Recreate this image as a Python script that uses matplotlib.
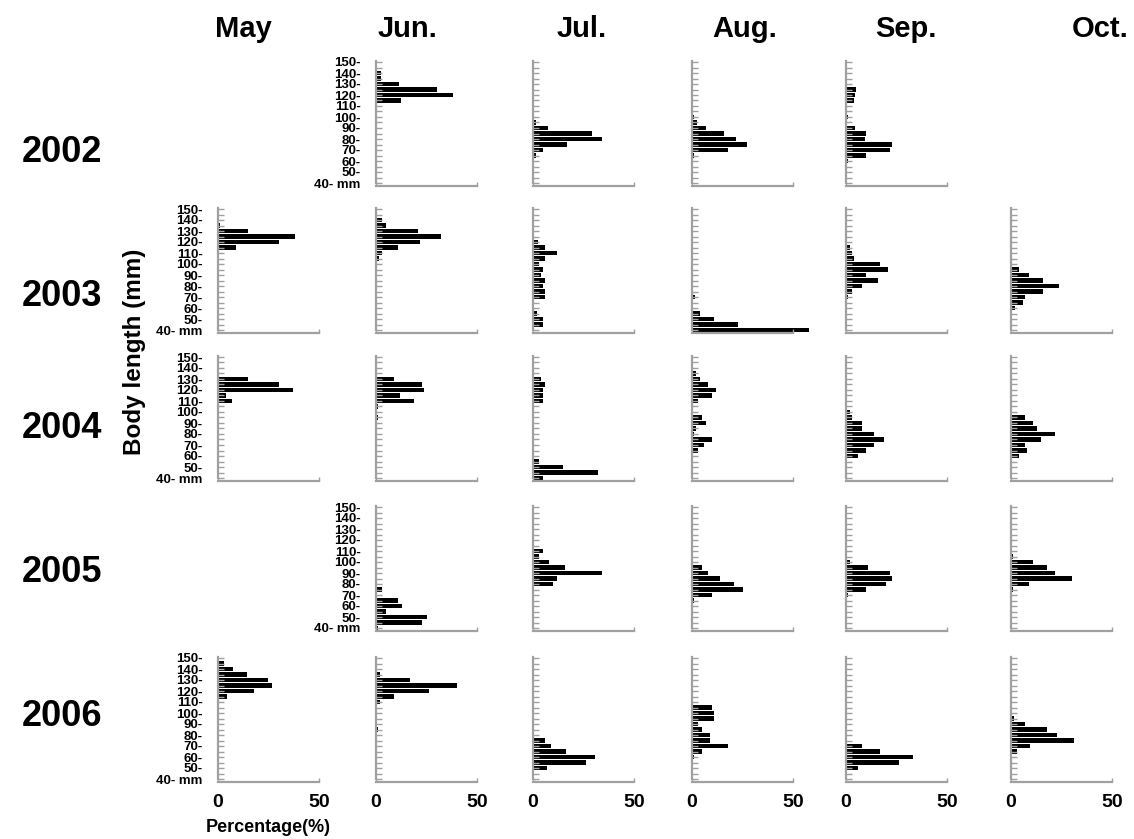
import numpy as np
import matplotlib.pyplot as plt

plt.rcParams['font.family'] = ['Liberation Sans', 'DejaVu Sans']

# body length bins (mm), 40 .. 150 in 5 mm steps
bins = np.arange(40, 155, 5)

months = ['May', 'Jun.', 'Jul.', 'Aug.', 'Sep.', 'Oct.']
years = ['2002', '2003', '2004', '2005', '2006']

# percentage per bin, order 40 -> 150 mm
#              40..60            65..85               90..110            115..135             140..150
jun_2002 = [0, 0, 0, 0, 0,    0, 0, 0, 0, 0,       0, 0, 0, 0, 0,     12.6, 38, 30, 11.5, 2.5, 2.5, 0, 0]
jul_2002 = [0, 0, 0, 0, 0,    1.5, 5, 17, 34, 29,  7.5, 1.5, 0, 0, 0, 0, 0, 0, 0, 0,          0, 0, 0]
aug_2002 = [0, 0, 0, 0, 0,    1, 18, 27, 22, 16,   7, 2.5, 1, 0, 0,   0, 0, 0, 0, 0,          0, 0, 0]
sep_2002 = [0, 0, 0, 0, 1,    10, 21.6, 22.8, 9.3, 10, 4.4, 0, 1, 0, 0, 4, 4.4, 5, 0, 0,      0, 0, 0]

may_2003 = [0, 0, 0, 0, 0,    0, 0, 0, 0, 0,       0, 0, 0, 0, 0,     9, 30, 38, 15, 1,       0, 0, 0]
jun_2003 = [0, 0, 0, 0, 0,    0, 0, 0, 0, 0,       0, 0, 0.5, 1.6, 2.8, 11, 22, 32, 21, 5,    3, 0, 0]
jul_2003 = [0, 5, 5, 2, 0,    0, 6, 6, 5, 6,       4, 5, 3, 6, 12,    6, 2.5, 0, 0, 0,        0, 0, 0]
aug_2003 = [58, 23, 11, 4, 0, 0, 1.5, 0, 0, 0,     0, 0, 0, 0, 0,     0, 0, 0, 0, 0,          0, 0, 0]
sep_2003 = [0, 0, 0, 0, 0,    0, 1, 3, 8, 16,      10, 21, 17, 4, 3,  2, 0, 0, 0, 0,          0, 0, 0]
oct_2003 = [0, 0, 0, 0, 2,    6, 7, 16, 24, 16,    9, 4, 0, 0, 0,     0, 0, 0, 0, 0,          0, 0, 0]

may_2004 = [0, 0, 0, 0, 0,    0, 0, 0, 0, 0,       0, 0, 0, 0, 7,     4, 37, 30, 15, 0,       0, 0, 0]
jun_2004 = [0, 0, 0, 0, 0,    0, 0, 0, 0, 0,       0, 1, 0, 1, 19,    12, 24, 23, 9, 0,       0, 0, 0]
jul_2004 = [5, 32, 15, 3, 0,  0, 0, 0, 0, 0,       0, 0, 0, 0, 5,     5, 5, 6, 4, 0,          0, 0, 0]
aug_2004 = [0, 0, 0, 0, 0,    3, 6, 10, 1, 2,      7, 5, 0, 0, 3,     10, 12, 8, 4, 2,        0, 0, 0]
sep_2004 = [0, 0, 0, 0, 6,    10, 14, 19, 14, 8,   8, 3, 2, 0, 0,     0, 0, 0, 0, 0,          0, 0, 0]
oct_2004 = [0, 0, 0, 0, 4,    8, 7, 15, 22, 13,    11, 7, 0, 0, 0,    0, 0, 0, 0, 0,          0, 0, 0]

jun_2005 = [1, 23, 25, 5, 13, 11, 0, 3, 0, 0,      0, 0, 0, 0, 0,     0, 0, 0, 0, 0,          0, 0, 0]
jul_2005 = [0, 0, 0, 0, 0,    0, 0, 0, 10, 12,     34, 16, 8, 3, 5,   0, 0, 0, 0, 0,          0, 0, 0]
aug_2005 = [0, 0, 0, 0, 0,    1, 10, 25, 21, 14,   8, 5, 0, 0, 0,     0, 0, 0, 0, 0,          0, 0, 0]
sep_2005 = [0, 0, 0, 0, 0,    0, 1, 10, 20, 23,    22, 11, 2, 0, 0,   0, 0, 0, 0, 0,          0, 0, 0]
oct_2005 = [0, 0, 0, 0, 0,    0, 0, 1, 9, 30,      22, 18, 11, 1, 0,  0, 0, 0, 0, 0,          0, 0, 0]

may_2006 = [0, 0, 0, 0, 0,    0, 0, 0, 0, 0,       0, 0, 0, 0, 0,     4.4, 18, 26.6, 24.7, 14.3, 7.2, 2.8, 0]
jun_2006 = [0, 0, 0, 0, 0,    0, 0, 0, 0, 1,       0, 0, 0, 0, 2,     9, 26, 40, 17, 2,       0, 0, 0]
jul_2006 = [0, 0, 6.9, 26.2, 30.8, 16.4, 8.7, 5.7, 0.5, 0, 0, 0, 0, 0, 0, 0, 0, 0, 0, 0,      0, 0, 0]
aug_2006 = [0, 0, 0, 0, 1,    5, 18, 9, 9, 5,      3, 11, 11, 10, 0,  0, 0, 0, 0, 0,          0, 0, 0]
sep_2006 = [0, 0, 6, 26, 33,  17, 8, 0, 0, 0,      0, 0, 0, 0, 0,     0, 0, 0, 0, 0,          0, 0, 0]
oct_2006 = [0, 0, 0, 0, 0,    2.8, 9.4, 31, 23, 18, 7, 1.6, 0, 0, 0,  0, 0, 0, 0, 0,          0, 0, 0]

# grid of panels, None = no sample
panels = [
    [None, jun_2002, jul_2002, aug_2002, sep_2002, None],
    [may_2003, jun_2003, jul_2003, aug_2003, sep_2003, oct_2003],
    [may_2004, jun_2004, jul_2004, aug_2004, sep_2004, oct_2004],
    [None, jun_2005, jul_2005, aug_2005, sep_2005, oct_2005],
    [may_2006, jun_2006, jul_2006, aug_2006, sep_2006, oct_2006],
]

######### layout (pixels) #########
W, H = 1134, 839
col_x0 = [218, 376, 533, 692, 846, 1011]     # x of the 0% line
row_top = [62, 209, 357, 507, 658]           # y of the 150 mm tick
px_mm = 1.1
px_pct = 2.02
y_lo, y_hi = 37.3, 150.6
x_hi = 60
grey = '#a0a0a0'

fig = plt.figure(figsize=(W / 100, H / 100), dpi=100)

for r, row in enumerate(panels):
    first = True
    for c, vals in enumerate(row):
        if vals is None:
            continue
        top = row_top[r] - (y_hi - 150) * px_mm
        bot = row_top[r] + (150 - y_lo) * px_mm
        ax = fig.add_axes([col_x0[c] / W, 1 - bot / H, x_hi * px_pct / W, (bot - top) / H])
        ax.barh(bins, vals, height=4.4, color='black', edgecolor='none', clip_on=False)
        ax.set_xlim(0, x_hi)
        ax.set_ylim(y_lo, y_hi)
        for s in ['top', 'right']:
            ax.spines[s].set_visible(False)
        for s in ['left', 'bottom']:
            ax.spines[s].set_color(grey)
            ax.spines[s].set_linewidth(1.6)
        ax.spines['bottom'].set_bounds(0, 50)
        ax.spines['left'].set_bounds(40, y_hi)
        ax.set_yticks(bins)
        if first:
            labs = []
            for b in bins:
                if b == 40:
                    labs.append('40- mm')
                elif b % 10 == 0:
                    labs.append('%d-' % b)
                else:
                    labs.append('')
            ax.set_yticklabels(labs, fontsize=9.5, fontweight='bold')
            first = False
        else:
            ax.set_yticklabels([])
        ax.tick_params(axis='y', direction='in', length=4, width=1, color=grey, pad=11)
        ax.set_xticks([0, 50])
        ax.tick_params(axis='x', direction='in', length=3, width=1, color=grey, pad=9)
        if r == len(panels) - 1:
            ax.set_xticklabels(['0', '50'], fontsize=14, fontweight='bold')
        else:
            ax.set_xticklabels([])
        ax.patch.set_alpha(0)

# column and row titles
title_x = [243, 408, 582, 745, 906, 1100]
for m, x in zip(months, title_x):
    fig.text(x / W, 1 - 29 / H, m, ha='center', va='center', fontsize=21, fontweight='bold')

year_y = [152, 297, 428, 572, 717]
for yr, y in zip(years, year_y):
    fig.text(62 / W, 1 - y / H, yr, ha='center', va='center', fontsize=26, fontweight='bold')

fig.text(134 / W, 1 - 352 / H, 'Body length (mm)', rotation=90, ha='center', va='center',
         fontsize=17.5, fontweight='bold')
fig.text(268 / W, 1 - 828 / H, 'Percentage(%)', ha='center', va='center', fontsize=13, fontweight='bold')

fig.savefig('out.png', dpi=100, facecolor='white')
